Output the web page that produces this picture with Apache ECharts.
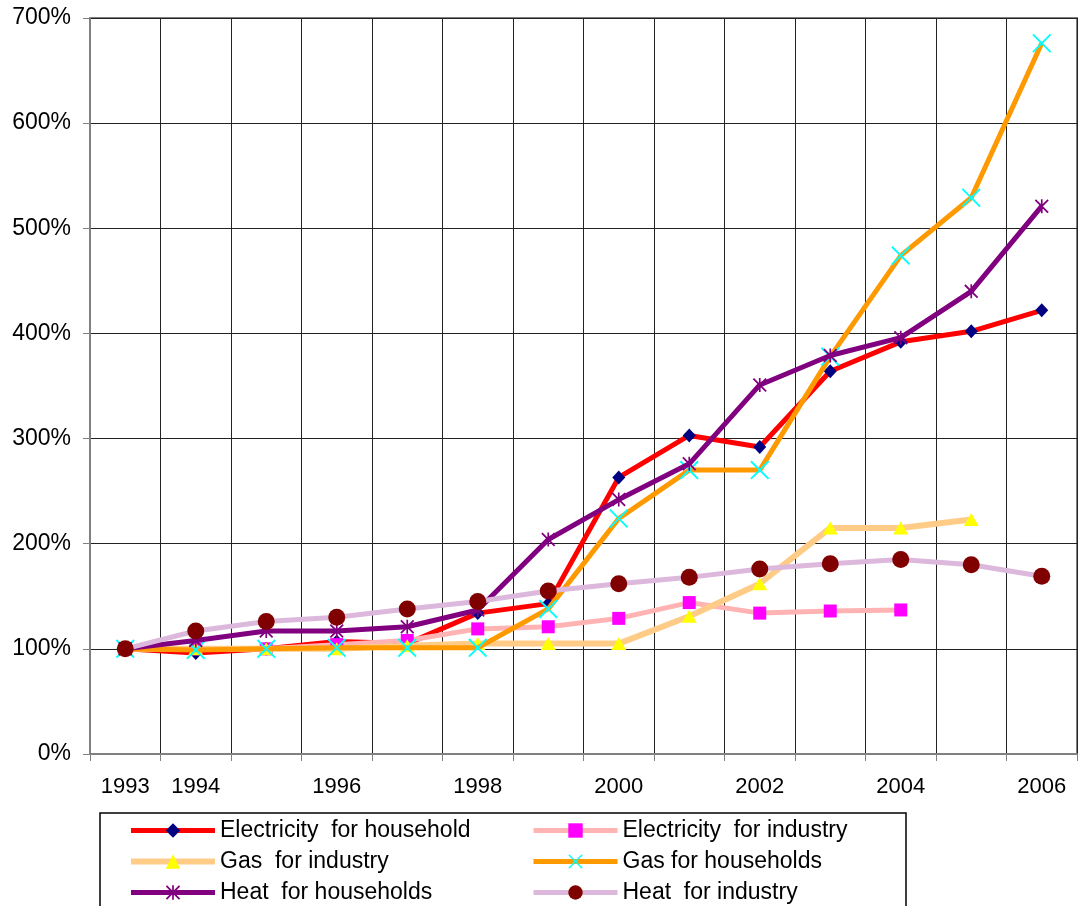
<!DOCTYPE html>
<html>
<head>
<meta charset="utf-8">
<script src="https://cdn.jsdelivr.net/npm/echarts@6/dist/echarts.min.js"></script>
<style>
  html, body { margin: 0; padding: 0; background: #fff; }
  #chart { width: 1079px; height: 906px; }
</style>
</head>
<body>
<div id="chart"></div>
<script>
// Price index, 1993 = 100%
const years = ['1993','1994','1995','1996','1997','1998','1999','2000','2001','2002','2003','2004','2005','2006'];
const shownYears = ['1993','1994','1996','1998','2000','2002','2004','2006'];

const elecHousehold  = [100, 96, 100, 107, 105, 134, 143, 263, 303, 292, 364, 392, 402, 422];
const elecIndustry   = [100, 100, 100, 104, 108, 119, 121, 129, 144, 134, 136, 137, null, null];
const gasIndustry    = [100, 100, 100, 100, 103, 105, 105, 105, 131, 162, 215, 215, 223, null];
const gasHouseholds  = [100, 99, 100, 101, 101, 101, 138, 224, 270, 270, 378, 474, 529, 676];
const heatHouseholds = [100, 108, 117, 117, 121, 137, 204, 242, 276, 351, 379, 396, 440, 521];
const heatIndustry   = [100, 117, 126, 130, 138, 145, 155, 162, 168, 176, 181, 185, 180, 169];

const FONT = 'Liberation Sans, Arial, sans-serif';

// custom marker shapes
const crossSymbol = 'path://M0,0.7 L0.7,0 L5,4.3 L9.3,0 L10,0.7 L5.7,5 L10,9.3 L9.3,10 L5,5.7 L0.7,10 L0,9.3 L4.3,5 Z';
const starSymbol = 'path://M4.4,0 L5.6,0 L5.6,10 L4.4,10 Z M0,0.9 L0.9,0 L10,9.1 L9.1,10 Z M9.1,0 L10,0.9 L0.9,10 L0,9.1 Z';

function lineSeries(name, data, lineColor, width, symbol, size, symColor, z) {
  return {
    name: name,
    type: 'line',
    data: data,
    z: z,
    symbol: symbol,
    symbolSize: size,
    showAllSymbol: true,
    connectNulls: false,
    lineStyle: { color: lineColor, width: width },
    itemStyle: { color: symColor, borderWidth: 0 },
    emphasis: { disabled: true }
  };
}

const chart = echarts.init(document.getElementById('chart'), null, { renderer: 'canvas' });

const legendCommon = {
  orient: 'vertical',
  top: 819,
  padding: 0,
  itemGap: 8,
  itemWidth: 84,
  itemHeight: 18,
  selectedMode: false,
  lineStyle: { width: 'inherit' },
  textStyle: { fontFamily: FONT, fontSize: 23, color: '#000', lineHeight: 22 }
};

chart.setOption({
  animation: false,
  backgroundColor: '#fff',
  textStyle: { fontFamily: FONT },
  grid: {
    left: 90, right: 2, top: 18, bottom: 152,
    show: true, borderColor: '#808080', borderWidth: 2
  },
  legend: [
    Object.assign({ left: 128, data: ['Electricity  for household', 'Gas  for industry', 'Heat  for households'] }, legendCommon),
    Object.assign({ left: 531, data: ['Electricity  for industry', 'Gas for households', 'Heat  for industry'] }, legendCommon)
  ],
  graphic: [{
    type: 'rect',
    shape: { x: 100, y: 813, width: 806, height: 120 },
    style: { fill: 'none', stroke: '#000', lineWidth: 1.5 },
    silent: true
  }],
  xAxis: {
    type: 'category',
    data: years,
    boundaryGap: true,
    axisLine: { lineStyle: { color: '#808080', width: 2 } },
    axisTick: { show: true, interval: 0, length: 7, lineStyle: { color: '#808080', width: 1 } },
    splitLine: { show: true, interval: 0, lineStyle: { color: '#222', width: 1 } },
    axisLabel: {
      interval: function (i, v) { return shownYears.indexOf(v) >= 0; },
      margin: 22, fontSize: 22, color: '#000', fontFamily: FONT
    }
  },
  yAxis: {
    type: 'value',
    min: 0, max: 700, interval: 100,
    axisLine: { show: true, lineStyle: { color: '#808080', width: 2 } },
    axisTick: { show: true, length: 7, lineStyle: { color: '#808080' } },
    splitLine: { show: true, lineStyle: { color: '#222', width: 1 } },
    axisLabel: { formatter: '{value}%', margin: 19, fontSize: 23, color: '#000', fontFamily: FONT }
  },
  series: [
    lineSeries('Electricity  for household', elecHousehold, '#FF0000', 5, 'diamond', [13, 14], '#000080', 2),
    lineSeries('Electricity  for industry', elecIndustry, '#FFB3B3', 5, 'rect', 13, '#FF00FF', 3),
    lineSeries('Gas  for industry', gasIndustry, '#FFCC88', 6, 'triangle', [15, 13], '#FFFF00', 4),
    lineSeries('Gas for households', gasHouseholds, '#FF9900', 5, crossSymbol, 19, '#00FFFF', 5),
    lineSeries('Heat  for households', heatHouseholds, '#800080', 5, starSymbol, 14, '#800080', 6),
    lineSeries('Heat  for industry', heatIndustry, '#DDB8DD', 5, 'circle', 17, '#800000', 7)
  ]
});
</script>
</body>
</html>
